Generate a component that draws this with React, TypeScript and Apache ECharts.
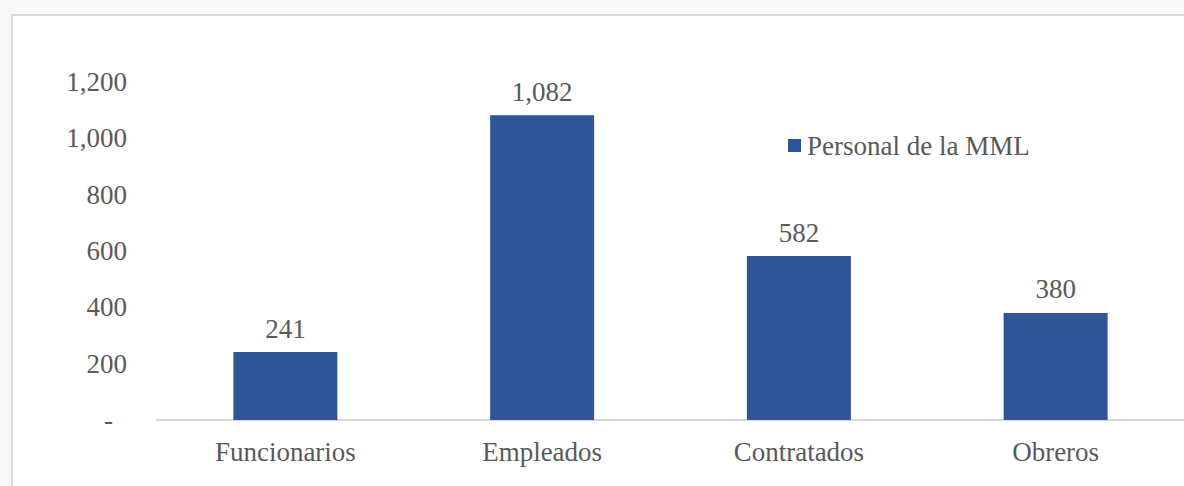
import React, { useEffect, useRef } from "react";
import * as echarts from "echarts";

const categories = ["Funcionarios", "Empleados", "Contratados", "Obreros"];
const personal = [241, 1082, 582, 380];
const seriesName = "Personal de la MML";
const yTicks = [0, 200, 400, 600, 800, 1000, 1200];

const FONT = "'Liberation Serif', 'Times New Roman', serif";
const TEXT = "#595959";
const FS = 27;

function fmt(v: number): string {
  return v.toLocaleString("en-US");
}

export default function App() {
  const ref = useRef<HTMLDivElement>(null);
  useEffect(() => {
    document.body.style.margin = "0";
    const chart = echarts.init(ref.current!, null, { renderer: "svg" });
    chart.setOption({
      animation: false,
      backgroundColor: "#f8f8f8",
      textStyle: { fontFamily: FONT },
      graphic: [
        {
          type: "rect",
          z: -10,
          silent: true,
          shape: { x: 12, y: 15, width: 1220, height: 520 },
          style: { fill: "#ffffff", stroke: "#d9d9d9", lineWidth: 2 },
        },
      ],
      legend: {
        left: 788,
        top: 132,
        padding: 0,
        icon: "rect",
        itemWidth: 13,
        itemHeight: 13,
        itemGap: 5,
        data: [seriesName],
        textStyle: { fontFamily: FONT, fontSize: FS, color: TEXT, lineHeight: 27, padding: [0, 0, 0, 1] },
      },
      grid: { left: 157, right: -4, top: 82, bottom: 66, containLabel: false },
      xAxis: {
        type: "category",
        data: categories,
        axisLine: { show: true, lineStyle: { color: "#d9d9d9", width: 2 } },
        axisTick: { show: false },
        axisLabel: { color: TEXT, fontFamily: FONT, fontSize: FS, margin: 18 },
      },
      yAxis: {
        type: "value",
        min: yTicks[0],
        max: yTicks[yTicks.length - 1],
        interval: 200,
        splitLine: { show: false },
        axisLine: { show: false },
        axisTick: { show: false },
        axisLabel: {
          color: TEXT,
          fontFamily: FONT,
          fontSize: FS,
          margin: 30,
          formatter: (v: number) => (v === 0 ? "{d|-}" : fmt(v)),
          rich: { d: { color: TEXT, fontFamily: FONT, fontSize: FS, padding: [0, 14, 0, 0] } },
        },
      },
      series: [
        {
          name: seriesName,
          type: "bar",
          data: personal,
          barWidth: 104,
          itemStyle: { color: "#2f5597" },
          label: {
            show: true,
            position: "top",
            distance: 10,
            color: TEXT,
            fontFamily: FONT,
            fontSize: FS,
            formatter: (p: any) => fmt(p.value),
          },
        },
      ],
    });
    return () => chart.dispose();
  }, []);
  return <div ref={ref} style={{ width: 1184, height: 486 }} />;
}
